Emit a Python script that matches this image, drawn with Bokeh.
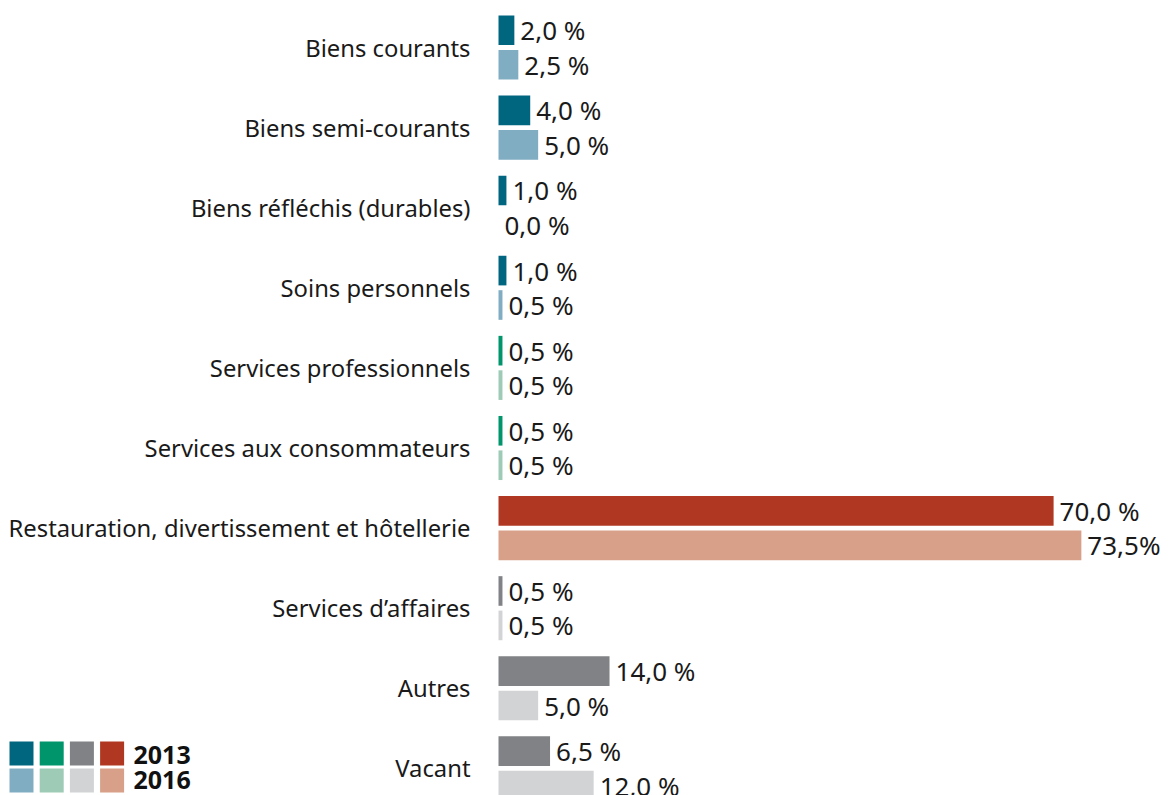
from bokeh.plotting import figure
from bokeh.models import Range1d, ColumnDataSource
from bokeh.core.properties import value
from bokeh.embed import file_html
from bokeh.resources import INLINE

categories = ["Biens courants", "Biens semi-courants", "Biens réfléchis (durables)",
              "Soins personnels", "Services professionnels", "Services aux consommateurs",
              "Restauration, divertissement et hôtellerie", "Services d\u2019affaires",
              "Autres", "Vacant"]
values_2013 = [2.0, 4.0, 1.0, 1.0, 0.5, 0.5, 70.0, 0.5, 14.0, 6.5]
values_2016 = [2.5, 5.0, 0.0, 0.5, 0.5, 0.5, 73.5, 0.5, 5.0, 12.0]
labels_2013 = ["2,0 %", "4,0 %", "1,0 %", "1,0 %", "0,5 %", "0,5 %", "70,0 %", "0,5 %", "14,0 %", "6,5 %"]
labels_2016 = ["2,5 %", "5,0 %", "0,0 %", "0,5 %", "0,5 %", "0,5 %", "73,5%", "0,5 %", "5,0 %", "12,0 %"]
groups = ["blue", "blue", "blue", "blue", "green", "green", "red", "grey", "grey", "grey"]
palette_2013 = {"blue": "#00667f", "green": "#00956a", "grey": "#808285", "red": "#b03823"}
palette_2016 = {"blue": "#81adc2", "green": "#9ecbb6", "grey": "#d2d3d5", "red": "#d8a088"}
legend_order = ["blue", "green", "grey", "red"]
legend_years = ["2013", "2016"]

FONT = "Noto Sans"
W, H = 1169, 795
PX_PER_UNIT = 7.93      # pixels per percent
X0_PX = 498             # canvas x of value 0
PITCH = 80.1            # pixels per category
Y0_PX = 47              # canvas y of first category center

x_start = -X0_PX / PX_PER_UNIT
x_end = (W - X0_PX) / PX_PER_UNIT
y_top = -Y0_PX / PITCH
y_bottom = (H - Y0_PX) / PITCH

p = figure(width=W, height=H, output_backend="svg", toolbar_location=None,
           x_range=Range1d(x_start, x_end), y_range=Range1d(y_bottom, y_top),
           min_border=0, outline_line_color=None)
p.axis.visible = False
p.grid.visible = False
p.background_fill_color = "white"
p.border_fill_color = "white"

idx = list(range(len(categories)))
off = 0.215
bh = 0.37

src13 = ColumnDataSource(dict(y=[i - off for i in idx], v=values_2013, lab=labels_2013,
                              c=[palette_2013[g] for g in groups]))
src16 = ColumnDataSource(dict(y=[i + off for i in idx], v=values_2016, lab=labels_2016,
                              c=[palette_2016[g] for g in groups]))
for s in (src13, src16):
    p.hbar(y="y", left=0, right="v", height=bh, fill_color="c", line_color=None, source=s)
    p.text(x="v", y="y", text="lab", x_offset=6, text_align="left", text_baseline="middle",
           text_font=value(FONT), text_font_size="26px", text_color="#1a1a1a", source=s)

csrc = ColumnDataSource(dict(x=[0] * len(categories), y=idx, t=categories))
p.text(x="x", y="y", text="t", x_offset=-28, text_align="right", text_baseline="middle",
       text_font=value(FONT), text_font_size="23.8px", text_color="#1a1a1a", source=csrc)

# legend (bottom-left), positions converted from pixels
def px_to_x(px):
    return (px - X0_PX) / PX_PER_UNIT

def py_to_y(py):
    return (py - Y0_PX) / PITCH

sq = 24
lx, ly, lc = [], [], []
for r, (yr, pal) in enumerate(zip(legend_years, [palette_2013, palette_2016])):
    for k, g in enumerate(legend_order):
        cx = 9 + sq / 2 + k * 30.2
        cy = 753 + r * 27
        lx.append(px_to_x(cx)); ly.append(py_to_y(cy)); lc.append(pal[g])
p.rect(x=lx, y=ly, width=sq / PX_PER_UNIT, height=sq / PITCH, fill_color=lc, line_color=None)
p.text(x=[px_to_x(133)] * 2, y=[py_to_y(754), py_to_y(779)], text=legend_years,
       text_align="left", text_baseline="middle", text_font=value(FONT),
       text_font_size="25px", text_font_style="bold", text_color="#111111")

open("out.html", "w").write(file_html(p, INLINE))
